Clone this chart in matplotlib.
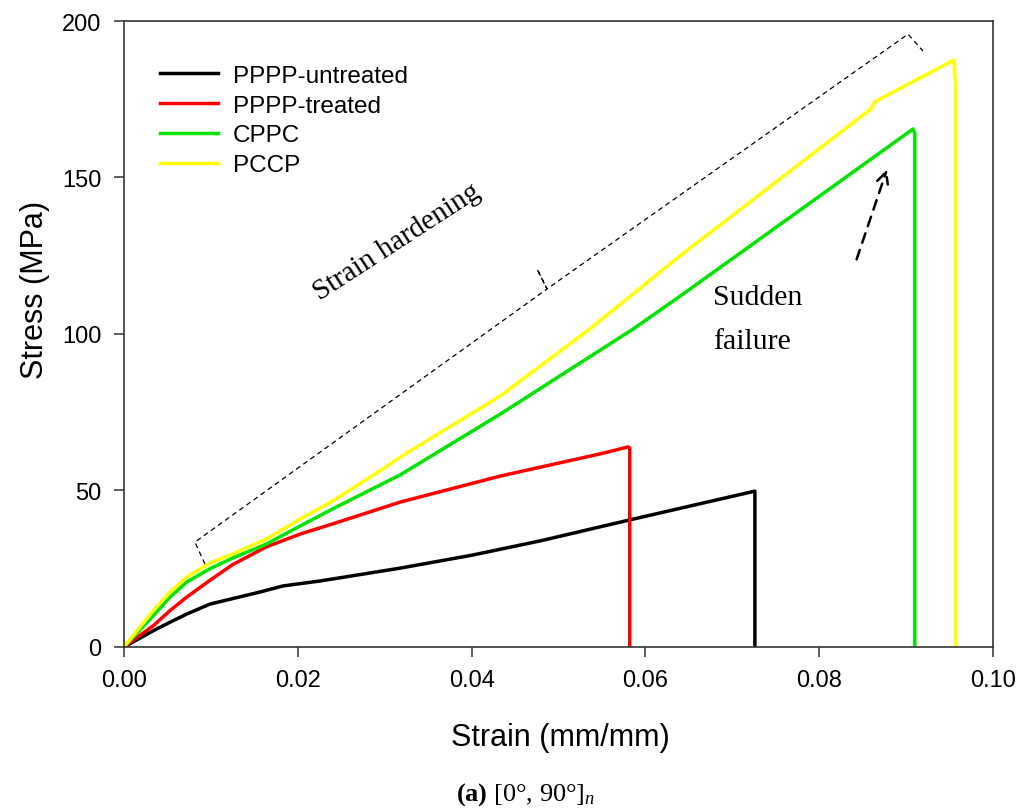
import matplotlib
matplotlib.use('Agg')
import matplotlib.pyplot as plt

plt.rcParams['font.family'] = ['Liberation Sans', 'DejaVu Sans']
plt.rcParams['mathtext.fontset'] = 'custom'
plt.rcParams['mathtext.rm'] = 'Liberation Serif'
plt.rcParams['mathtext.it'] = 'Liberation Serif:italic'
plt.rcParams['mathtext.bf'] = 'Liberation Serif:bold'

# PPPP-untreated
x_untr = [0, 0.00338, 0.00529, 0.00721, 0.0099, 0.0157, 0.0183, 0.0226, 0.0318, 0.04,
          0.0479, 0.0582, 0.0726, 0.0726]
y_untr = [0, 5.2, 7.9, 10.5, 13.7, 17.6, 19.5, 21.1, 25.2, 29.3,
          33.9, 40.6, 49.8, 0]

# PPPP-treated
x_tr = [0, 0.00338, 0.00529, 0.00721, 0.0099, 0.0125, 0.0164, 0.0203, 0.024, 0.0318,
        0.0433, 0.0548, 0.058, 0.0582, 0.0582]
y_tr = [0, 6.8, 11.6, 15.9, 21.3, 26.3, 32.0, 36.1, 39.3, 46.3,
        54.6, 61.7, 63.9, 63.6, 0]

# CPPC
x_cppc = [0, 0.00338, 0.00529, 0.00721, 0.0099, 0.0125, 0.0164, 0.0203, 0.024, 0.0318,
          0.0433, 0.0586, 0.064, 0.0755, 0.0908, 0.091, 0.091]
y_cppc = [0, 10.0, 15.9, 20.7, 25.0, 28.4, 32.9, 38.7, 44.1, 55.0,
          74.4, 101.6, 112.1, 135.0, 165.5, 164.0, 0]

# PCCP
x_pccp = [0, 0.00338, 0.00529, 0.00721, 0.0099, 0.0125, 0.0164, 0.0203, 0.024, 0.0298,
          0.0318, 0.0433, 0.0536, 0.064, 0.086, 0.0864, 0.0955, 0.0957, 0.0957]
y_pccp = [0, 11.6, 17.5, 22.3, 26.8, 29.7, 34.5, 40.9, 46.6, 56.9,
          60.7, 80.2, 101.6, 125.0, 172.0, 174.2, 187.5, 180.0, 0]

# bracket "strain hardening"
x_brk = [0.00932, 0.00817, 0.04868, 0.04753, 0.04868, 0.09022, 0.09194]
y_brk = [26.5, 33.5, 114.4, 120.8, 114.4, 195.8, 190.4]

fig = plt.figure(figsize=(10.21, 8.12), dpi=100)
ax = fig.add_axes([0.1214, 0.2020, 0.8512, 0.7709])

ax.plot(x_untr, y_untr, color='black', lw=2.5, label='PPPP-untreated')
ax.plot(x_tr, y_tr, color='#ff0000', lw=2.5, label='PPPP-treated')
ax.plot(x_cppc, y_cppc, color='#00e400', lw=2.5, label='CPPC')
ax.plot(x_pccp, y_pccp, color='#ffff00', lw=2.5, label='PCCP')

ax.plot(x_brk, y_brk, color='black', lw=0.9, linestyle=(0, (4, 3)))

ax.annotate('', xy=(0.0879, 153.4), xytext=(0.0842, 123.0),
            arrowprops=dict(arrowstyle='->', color='black', lw=1.8,
                            linestyle=(0, (4, 3)), mutation_scale=20))

ax.text(0.0314, 129.7, 'Strain hardening', family='Liberation Serif', fontsize=21,
        rotation=33, rotation_mode='anchor', ha='center', va='center')
ax.text(0.0678, 111.8, 'Sudden', family='Liberation Serif', fontsize=21.5,
        ha='left', va='center')
ax.text(0.0678, 97.8, 'failure', family='Liberation Serif', fontsize=21.5,
        ha='left', va='center')

ax.set_xlim(0, 0.1)
ax.set_ylim(0, 200)
ax.set_xticks([0, 0.02, 0.04, 0.06, 0.08, 0.10])
ax.set_xticklabels(['0.00', '0.02', '0.04', '0.06', '0.08', '0.10'])
ax.set_yticks([0, 50, 100, 150, 200])
ax.tick_params(direction='out', length=7, width=1.1, labelsize=17, pad=9,
               color='#333333')
for s in ax.spines.values():
    s.set_linewidth(1.2)
    s.set_color('#333333')

ax.set_xlabel('Strain (mm/mm)', fontsize=22)
ax.set_ylabel('Stress (MPa)', fontsize=22)
ax.xaxis.set_label_coords(0.502, -0.12)
ax.yaxis.set_label_coords(-0.085, 0.572)

ax.legend(loc='upper left', bbox_to_anchor=(0.0414, 0.93), frameon=False,
          fontsize=17.5, handlelength=2.4, handletextpad=0.6, labelspacing=0.32,
          borderpad=0, borderaxespad=0)

fig.text(0.515, 0.021, r'$\mathbf{(a)}$ [0°, 90°]$_{\mathit{n}}$',
         family='Liberation Serif', fontsize=19, ha='center', va='center')

plt.savefig('out.png')
